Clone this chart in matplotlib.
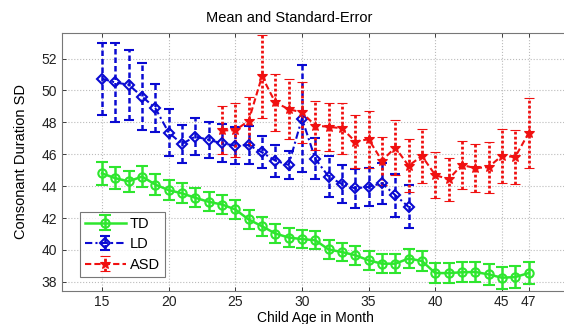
import matplotlib
matplotlib.use("Agg")
import matplotlib.pyplot as plt

plt.rcParams["font.family"] = ["Liberation Sans", "DejaVu Sans"]

# Typically developing children, months 15..47
td_months = list(range(15, 48))
td_mean = [44.8, 44.5, 44.3, 44.6, 44.1, 43.75, 43.55, 43.27, 43.02, 42.85,
           42.54, 41.91, 41.49, 41.03, 40.78, 40.68, 40.61, 40.03, 39.87, 39.67,
           39.35, 39.14, 39.14, 39.46, 39.31, 38.55, 38.55, 38.6, 38.62, 38.47,
           38.26, 38.3, 38.55]
td_se = [0.7, 0.7, 0.68, 0.65, 0.65, 0.62, 0.62, 0.6, 0.6, 0.6,
         0.6, 0.6, 0.6, 0.58, 0.58, 0.58, 0.58, 0.58, 0.58, 0.6,
         0.6, 0.6, 0.6, 0.6, 0.62, 0.62, 0.62, 0.62, 0.64, 0.66,
         0.68, 0.68, 0.68]

# Language delay, months 15..38
ld_months = list(range(15, 39))
ld_mean = [50.74, 50.5, 50.36, 49.62, 48.89, 47.36, 46.65, 47.11, 46.9, 46.69,
           46.54, 46.58, 46.12, 45.6, 45.33, 48.24, 45.72, 44.6, 44.13, 43.86,
           43.96, 44.18, 43.44, 42.7]
ld_se = [2.25, 2.45, 2.2, 2.1, 1.5, 1.45, 1.2, 1.15, 1.15, 1.2,
         1.15, 1.2, 1.0, 1.0, 0.85, 3.36, 1.3, 1.3, 1.2, 1.2,
         1.2, 1.3, 1.35, 1.35]

# Autism spectrum disorder, months 24..47
asd_months = list(range(24, 48))
asd_mean = [47.5, 47.5, 48.1, 50.88, 49.25, 48.83, 48.62, 47.8, 47.72, 47.63,
            46.8, 46.94, 45.6, 46.42, 45.28, 45.89, 44.7, 44.43, 45.33, 45.13,
            45.2, 45.9, 45.83, 47.32]
asd_se = [1.5, 1.7, 1.5, 2.62, 1.8, 1.9, 1.9, 1.55, 1.5, 1.6,
          1.67, 1.8, 1.5, 1.75, 1.65, 1.7, 1.47, 1.36, 1.5, 1.5,
          1.6, 1.7, 1.7, 2.2]

x_ticks = [15, 20, 25, 30, 35, 40, 45, 47]
y_ticks = [38, 40, 42, 44, 46, 48, 50, 52]

green = "#2ee62e"
blue = "#0a0ad2"
red = "#f01010"

fig = plt.figure(figsize=(5.64, 3.24), dpi=100)
ax = fig.add_axes([0.110, 0.103, 0.898, 0.795])

ax.errorbar(td_months, td_mean, yerr=td_se, color=green, ls="-", lw=1.8,
            marker="o", ms=6, mfc="none", mew=1.5, capsize=4.5,
            elinewidth=1.8, capthick=1.5, label="TD")

eb = ax.errorbar(ld_months, ld_mean, yerr=ld_se, color=blue,
                 ls=(0, (3.5, 1.5, 1, 1.5)), lw=1.5,
                 marker="D", ms=5.5, mfc="none", mew=1.5, capsize=3.5,
                 elinewidth=1.8, capthick=1.5, label="LD")
eb[2][0].set_linestyle((0, (2.2, 1.2)))

eb = ax.errorbar(asd_months, asd_mean, yerr=asd_se, color=red,
                 ls=(0, (3, 1.5)), lw=1.5,
                 marker="*", ms=7.5, mew=0.8, capsize=3.5,
                 elinewidth=2.0, capthick=1.5, label="ASD")
eb[2][0].set_linestyle((0, (1.0, 0.8)))

ax.set_xlim(12, 50)
ax.set_ylim(37.45, 53.6)
ax.set_xticks(x_ticks)
ax.set_yticks(y_ticks)
ax.tick_params(direction="in", top=True, right=True, labelsize=10,
               length=3, width=0.6, colors="#222222")
ax.grid(True, ls=":", color="#bbbbbb", lw=0.8)
for s in ax.spines.values():
    s.set_color("#777777")
    s.set_linewidth(0.8)

ax.set_title("Mean and Standard-Error", fontsize=10.5, x=0.448, pad=8)
ax.set_xlabel("Child Age in Month", fontsize=10, labelpad=1)
ax.set_ylabel("Consonant Duration SD", fontsize=10.5, labelpad=10)

leg = ax.legend(loc="lower left", bbox_to_anchor=(0.035, 0.053),
                borderaxespad=0, fontsize=10.5, handlelength=2.8,
                handletextpad=0.3, fancybox=False, edgecolor="#555555",
                labelspacing=0.45, borderpad=0.35)
leg.get_frame().set_linewidth(0.8)

fig.savefig("out.png", dpi=100)
